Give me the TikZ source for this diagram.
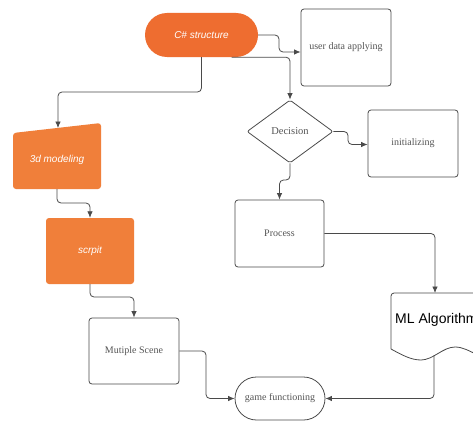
\documentclass[tikz,border=0pt]{standalone}
\usepackage{fontspec}
\setmainfont{Liberation Serif}
\setsansfont{Liberation Sans}
\usetikzlibrary{shapes.geometric,shapes.misc,arrows.meta}
\definecolor{orangeA}{HTML}{EE6D30}
\definecolor{orangeB}{HTML}{F07F3A}
\definecolor{lineC}{HTML}{4A4A4A}
\definecolor{textC}{HTML}{555555}
\tikzset{
  boxline/.style={draw=lineC, line width=0.8pt},
  wbox/.style={boxline, rectangle, rounded corners=3pt, inner sep=0pt, font=\fontsize{10}{11}\selectfont, text=textC},
  obox/.style={rectangle, rounded corners=3pt, fill=orangeB, inner sep=0pt, text=white, font=\sffamily\itshape\fontsize{10}{11}\selectfont},
  conn/.style={draw=lineC, line width=0.8pt, rounded corners=4pt, -{Latex[length=6.5pt,width=5.5pt]}},
}
\begin{document}
\begin{tikzpicture}[x=1pt,y=-1pt]
\useasboundingbox (0,0) rectangle (473,420);
\clip (0,0) rectangle (473,420);
\fill[white] (0,0) rectangle (473,420);

% C# structure
\node[rounded rectangle, fill=orangeA, minimum width=113pt, minimum height=44pt, inner sep=0pt, text=white, font=\sffamily\itshape\fontsize{10}{11}\selectfont] (cs) at (201.5,35) {C\# structure};
% user data applying
\node[wbox, minimum width=90pt, minimum height=77pt] (ud) at (346,47.5) {user data applying};
% Decision
\node[diamond, boxline, rounded corners=2pt, minimum width=86pt, minimum height=63pt, inner sep=0pt, font=\fontsize{10.5}{11}\selectfont, text=textC] (dec) at (290,131.5) {Decision};
% initializing
\node[wbox, minimum width=90pt, minimum height=67pt] (ini) at (413,143.5) {initializing};
% Process
\node[wbox, minimum width=89pt, minimum height=67pt] (proc) at (279.5,233.5) {Process};
% 3d modeling
\fill[orangeB, rounded corners=3pt] (13,133) -- (101,123) -- (101,189) -- (13,189) -- cycle;
\node[text=white, font=\sffamily\itshape\fontsize{10}{11}\selectfont] (md) at (57,160) {3d modeling};
\coordinate (mdtop) at (58,128);
\coordinate (mdbot) at (57,189);
% scrpit
\node[obox, minimum width=88pt, minimum height=66pt] (sc) at (90,251) {scrpit};
% Mutiple Scene
\node[wbox, minimum width=90pt, minimum height=66pt] (ms) at (134,351) {Mutiple Scene};
% game functioning
\node[rounded rectangle, boxline, minimum width=90pt, minimum height=43pt, inner sep=0pt, font=\fontsize{10}{11}\selectfont, text=textC] (gf) at (280,398.5) {game functioning};
% ML Algorithm document
\draw[boxline, rounded corners=3pt] (391,349) -- (391,293) -- (485,293);
\draw[boxline] (391,349) .. controls (402,355) and (411,360) .. (421,360)
  .. controls (433,360) and (443,347) .. (455,347)
  .. controls (463,347) and (469,351) .. (478,355);
\node[anchor=west, inner sep=0pt, font=\sffamily\fontsize{14}{16}\selectfont, text=black] (ml) at (395,320) {ML Algorithm};
\coordinate (mltop) at (435,293);
\coordinate (mlbot) at (434,355);

% connectors
\draw[conn] (cs.east) -- (279,35) |- ([yshift=-4.5pt]ud.west);
\draw[conn] (cs.south) -- (201.5,92) -| (mdtop);
\draw[conn] ([xshift=30pt]cs.south) -| (dec.north);
\draw[conn] (dec.east) -- (348,131.5) |- ([yshift=-1pt]ini.west);
\draw[conn] (dec.south) -- (290,180) -| (proc.north);
\draw[conn] (proc.east) -| (mltop);
\draw[conn] (mdbot) -- (57,203) -| (sc.north);
\draw[conn] (sc.south) -- (90,297) -| (ms.north);
\draw[conn] (ms.east) -- (206,351) |- (gf.west);
\draw[conn] (mlbot) |- (gf.east);
\end{tikzpicture}
\end{document}
